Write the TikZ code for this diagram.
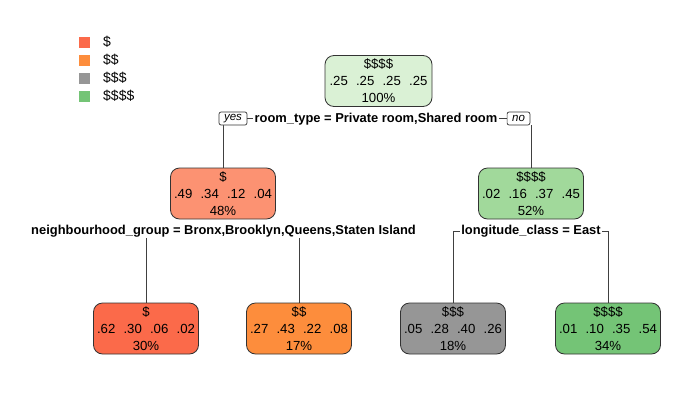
\documentclass[tikz,border=0pt]{standalone}
\usepackage{fontspec}
\setmainfont{Liberation Sans}
\usetikzlibrary{backgrounds}
\definecolor{cA}{HTML}{FB6A4A}
\definecolor{cB}{HTML}{FD8D3C}
\definecolor{cC}{HTML}{969696}
\definecolor{cD}{HTML}{74C476}
\definecolor{cAl}{HTML}{FC9272}
\definecolor{cDl}{HTML}{A1D99B}
\definecolor{cDr}{HTML}{DAF1D5}
\definecolor{edge}{HTML}{333333}
\newcommand{\gp}{\hspace{0.62em}}
\tikzset{
  treebox/.style={draw=edge, line width=0.8pt, rounded corners=9pt, minimum width=105pt,
    minimum height=51pt, align=center, inner sep=2pt,
    font=\fontsize{13.2}{17}\selectfont},
  splitlab/.style={fill=white, inner xsep=1.5pt, inner ysep=1pt, font=\fontsize{12.9}{15}\selectfont\bfseries},
  yn/.style={draw=edge, fill=white, line width=0.7pt, rounded corners=2pt, inner xsep=5pt, inner ysep=1pt,
    minimum height=13pt, font=\fontsize{11.5}{12}\selectfont\itshape},
  conn/.style={draw=black!75, line width=0.7pt},
  legsq/.style={minimum size=11pt, inner sep=0pt},
  legtx/.style={anchor=west, inner sep=0pt, font=\fontsize{14}{16}\selectfont}
}
\begin{document}
\begin{tikzpicture}[x=1pt, y=-1pt]
\useasboundingbox (0,0) rectangle (694,410);
% legend
\node[legsq, fill=cA] (q1) at (84,42) {};
\node[legsq, fill=cB] (q2) at (84,60) {};
\node[legsq, fill=cC] (q3) at (84,78) {};
\node[legsq, fill=cD] (q4) at (84,96) {};
\node[legtx] (t1) at (103,42) {\$};
\node[legtx] (t2) at (103,60) {\$\$};
\node[legtx] (t3) at (103,78) {\$\$\$};
\node[legtx] (t4) at (103,96) {\$\$\$\$};
% nodes
\node[treebox, fill=cDr, minimum width=107pt] (n1) at (378.5,81) {\$\$\$\$\\.25\gp.25\gp.25\gp.25\\100\%};
\node[treebox, fill=cAl] (n2) at (223,193.5) {\$\\.49\gp.34\gp.12\gp.04\\48\%};
\node[treebox, fill=cDl] (n3) at (531,193.5) {\$\$\$\$\\.02\gp.16\gp.37\gp.45\\52\%};
\node[treebox, fill=cA] (l1) at (146,328.5) {\$\\.62\gp.30\gp.06\gp.02\\30\%};
\node[treebox, fill=cB] (l2) at (299,328.5) {\$\$\\.27\gp.43\gp.22\gp.08\\17\%};
\node[treebox, fill=cC] (l3) at (453,328.5) {\$\$\$\\.05\gp.28\gp.40\gp.26\\18\%};
\node[treebox, fill=cD] (l4) at (608,328.5) {\$\$\$\$\\.01\gp.10\gp.35\gp.54\\34\%};
% split labels
\node[splitlab] (s1) at (376,119) {room\_type = Private room,Shared room};
\node[yn] (yes) at (233,118.5) {yes};
\node[yn] (no) at (518.5,118.5) {no};
\node[splitlab] (s2) at (223.5,231) {neighbourhood\_group = Bronx,Brooklyn,Queens,Staten Island};
\node[splitlab] (s3) at (531,231) {longitude\_class = East};
% connectors
\begin{scope}[on background layer]
\draw[conn] (yes.east) -- (no.west);
\draw[conn] (yes.south -| n2.north) -- (n2.north);
\draw[conn] (no.south -| n3.north) -- (n3.north);
\draw[conn] (l1.north) |- (s2.center) -| (l2.north);
\draw[conn] (l3.north) |- (s3.center) -| (l4.north);
\end{scope}
\end{tikzpicture}
\end{document}
